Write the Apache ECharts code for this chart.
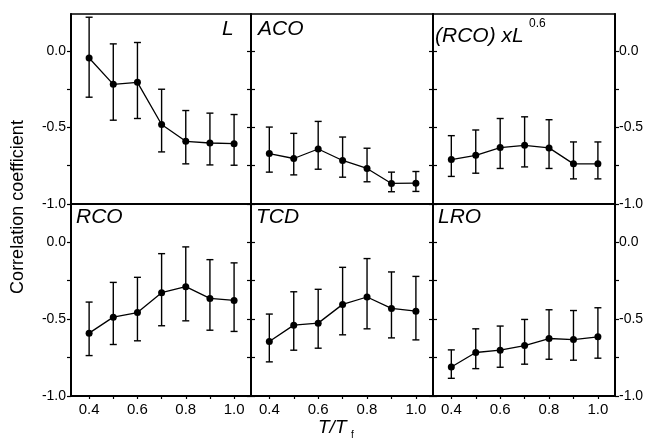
<!DOCTYPE html>
<html><head><meta charset="utf-8">
<script src="https://cdn.jsdelivr.net/npm/echarts@6/dist/echarts.min.js"></script>
<style>html,body{margin:0;padding:0;background:#fff}#c{width:652px;height:446px}</style>
</head><body><div id="c"></div>
<script>
const temps = [0.4, 0.5, 0.6, 0.7, 0.8, 0.9, 1.0];
const xTickValues = [0.4, 0.5, 0.6, 0.7, 0.8, 0.9, 1.0];
const xLabelValues = [0.4, 0.6, 0.8, 1.0];
const yTickValues = [-1.0, -0.75, -0.5, -0.25, 0.0];
const yLabelValues = [-1.0, -0.5, 0.0];

const panelNames = ['L', 'ACO', '(RCO) xL', 'RCO', 'TCD', 'LRO'];

const meanL   = [-0.047, -0.219, -0.206, -0.481, -0.591, -0.602, -0.606];
const lowL    = [-0.303, -0.453, -0.442, -0.660, -0.738, -0.745, -0.747];
const highL   = [ 0.219,  0.045,  0.054, -0.251, -0.390, -0.407, -0.416];

const meanACO = [-0.671, -0.703, -0.641, -0.716, -0.768, -0.866, -0.864];
const lowACO  = [-0.792, -0.810, -0.773, -0.825, -0.855, -0.920, -0.918];
const highACO = [-0.498, -0.539, -0.461, -0.563, -0.636, -0.792, -0.788];

const meanRCOL = [-0.710, -0.682, -0.632, -0.617, -0.634, -0.738, -0.738];
const lowRCOL  = [-0.820, -0.799, -0.768, -0.758, -0.768, -0.836, -0.836];
const highRCOL = [-0.554, -0.517, -0.442, -0.431, -0.450, -0.595, -0.595];

const meanRCO = [-0.591, -0.487, -0.457, -0.328, -0.289, -0.365, -0.378];
const lowRCO  = [-0.737, -0.665, -0.641, -0.543, -0.511, -0.572, -0.580];
const highRCO = [-0.389, -0.261, -0.228, -0.074, -0.030, -0.113, -0.134];

const meanTCD = [-0.646, -0.539, -0.526, -0.404, -0.356, -0.430, -0.448];
const lowTCD  = [-0.778, -0.702, -0.689, -0.602, -0.563, -0.622, -0.635];
const highTCD = [-0.467, -0.322, -0.306, -0.163, -0.106, -0.193, -0.222];

const meanLRO = [-0.811, -0.717, -0.702, -0.672, -0.626, -0.633, -0.615];
const lowLRO  = [-0.885, -0.822, -0.813, -0.793, -0.761, -0.767, -0.754];
const highLRO = [-0.700, -0.563, -0.545, -0.502, -0.439, -0.444, -0.426];

const panels = [
  [meanL, lowL, highL], [meanACO, lowACO, highACO], [meanRCOL, lowRCOL, highRCOL],
  [meanRCO, lowRCO, highRCO], [meanTCD, lowTCD, highTCD], [meanLRO, lowLRO, highLRO]
];

const FONT = 'Arial, "Liberation Sans", sans-serif';
const lefts = [71, 251, 433];
const widths = [180, 182, 182];
const tops = [14, 204];
const heights = [190, 192];
const ymax = [0.24, 0.249];

const grids = [], xAxes = [], yAxes = [], series = [];
for (let i = 0; i < 6; i++) {
  const r = Math.floor(i / 3), c = i % 3;
  grids.push({left: lefts[c], top: tops[r], width: widths[c], height: heights[r],
    show: true, borderColor: '#000', borderWidth: 1.5, backgroundColor: 'transparent'});
  const bottomRow = r === 1;
  xAxes.push({type: 'value', gridIndex: i, min: 0.325, max: 1.07, position: 'bottom',
    axisLine: {show: true, onZero: false, lineStyle: {color: '#000', width: bottomRow ? 2 : 1.5}},
    splitLine: {show: false},
    axisTick: {show: bottomRow, customValues: xTickValues, length: 3, inside: false, lineStyle: {color: '#000', width: 1.2}},
    axisLabel: {show: bottomRow, customValues: xLabelValues, formatter: v => v.toFixed(1),
      color: '#000', fontSize: 15, fontFamily: FONT, margin: 6}
  });
  yAxes.push({type: 'value', gridIndex: i, min: -1, max: ymax[r], position: 'left',
    axisLine: {show: true, onZero: false, lineStyle: {color: '#000', width: c === 0 ? 2 : 1.5}},
    splitLine: {show: false},
    axisTick: {show: true, customValues: yTickValues, length: 4, inside: c !== 0, lineStyle: {color: '#000', width: 1.2}},
    axisLabel: {show: c === 0, customValues: yLabelValues, formatter: v => v.toFixed(1),
      color: '#000', fontSize: 14, fontFamily: FONT, margin: 5}
  });
  yAxes.push({type: 'value', gridIndex: i, min: -1, max: ymax[r], position: 'right',
    axisLine: {show: true, onZero: false, lineStyle: {color: '#000', width: c === 2 ? 2 : 1.5}},
    splitLine: {show: false},
    axisTick: {show: true, customValues: yTickValues, length: 4, inside: c !== 2, lineStyle: {color: '#000', width: 1.2}},
    axisLabel: {show: c === 2, customValues: yLabelValues, formatter: v => v.toFixed(1),
      color: '#000', fontSize: 14, fontFamily: FONT, margin: 4}
  });
  const [m, lo, hi] = panels[i];
  series.push({
    type: 'custom', xAxisIndex: i, yAxisIndex: 2 * i,
    data: temps.map((t, k) => [t, lo[k], hi[k]]),
    encode: {x: 0, y: [1, 2]},
    renderItem: function (params, api) {
      const x = api.value(0);
      const a = api.coord([x, api.value(1)]);
      const b = api.coord([x, api.value(2)]);
      const w = 3.5;
      const st = {stroke: '#000', lineWidth: 1.4};
      return {type: 'group', children: [
        {type: 'line', shape: {x1: a[0], y1: a[1], x2: b[0], y2: b[1]}, style: st},
        {type: 'line', shape: {x1: a[0] - w, y1: a[1], x2: a[0] + w, y2: a[1]}, style: st},
        {type: 'line', shape: {x1: b[0] - w, y1: b[1], x2: b[0] + w, y2: b[1]}, style: st}
      ]};
    },
    z: 2, silent: true
  });
  series.push({
    type: 'line', xAxisIndex: i, yAxisIndex: 2 * i,
    data: temps.map((t, k) => [t, m[k]]),
    symbol: 'circle', symbolSize: 7, showSymbol: true,
    lineStyle: {color: '#000', width: 1.3}, itemStyle: {color: '#000'},
    z: 3, silent: true, animation: false
  });
}

const labelStyle = {fill: '#000', fontSize: 21, fontStyle: 'italic', fontFamily: FONT};
const graphic = [
  {type: 'text', left: 222, top: 19, style: Object.assign({text: panelNames[0]}, labelStyle)},
  {type: 'text', left: 258, top: 19, style: Object.assign({text: panelNames[1]}, labelStyle)},
  {type: 'text', left: 435, top: 26, style: Object.assign({text: panelNames[2]}, labelStyle)},
  {type: 'text', left: 529, top: 18, style: {text: '0.6', fill: '#000', fontSize: 12, fontFamily: FONT}},
  {type: 'text', left: 76, top: 207, style: Object.assign({text: panelNames[3]}, labelStyle)},
  {type: 'text', left: 256, top: 207, style: Object.assign({text: panelNames[4]}, labelStyle)},
  {type: 'text', left: 438, top: 207, style: Object.assign({text: panelNames[5]}, labelStyle)},
  {type: 'text', x: 18, y: 207, rotation: Math.PI / 2,
    style: {text: 'Correlation coefficient', fill: '#000', fontSize: 18, fontFamily: FONT, align: 'center', verticalAlign: 'middle'}},
  {type: 'text', left: 318, top: 418, style: {text: 'T/T', fill: '#000', fontSize: 19, fontStyle: 'italic', fontFamily: FONT}},
  {type: 'text', left: 351, top: 430, style: {text: 'f', fill: '#000', fontSize: 10, fontFamily: FONT}}
];

const chart = echarts.init(document.getElementById('c'), null, {renderer: 'canvas'});
chart.setOption({
  animation: false,
  backgroundColor: '#fff',
  grid: grids, xAxis: xAxes, yAxis: yAxes, series: series, graphic: graphic
});
</script></body></html>
